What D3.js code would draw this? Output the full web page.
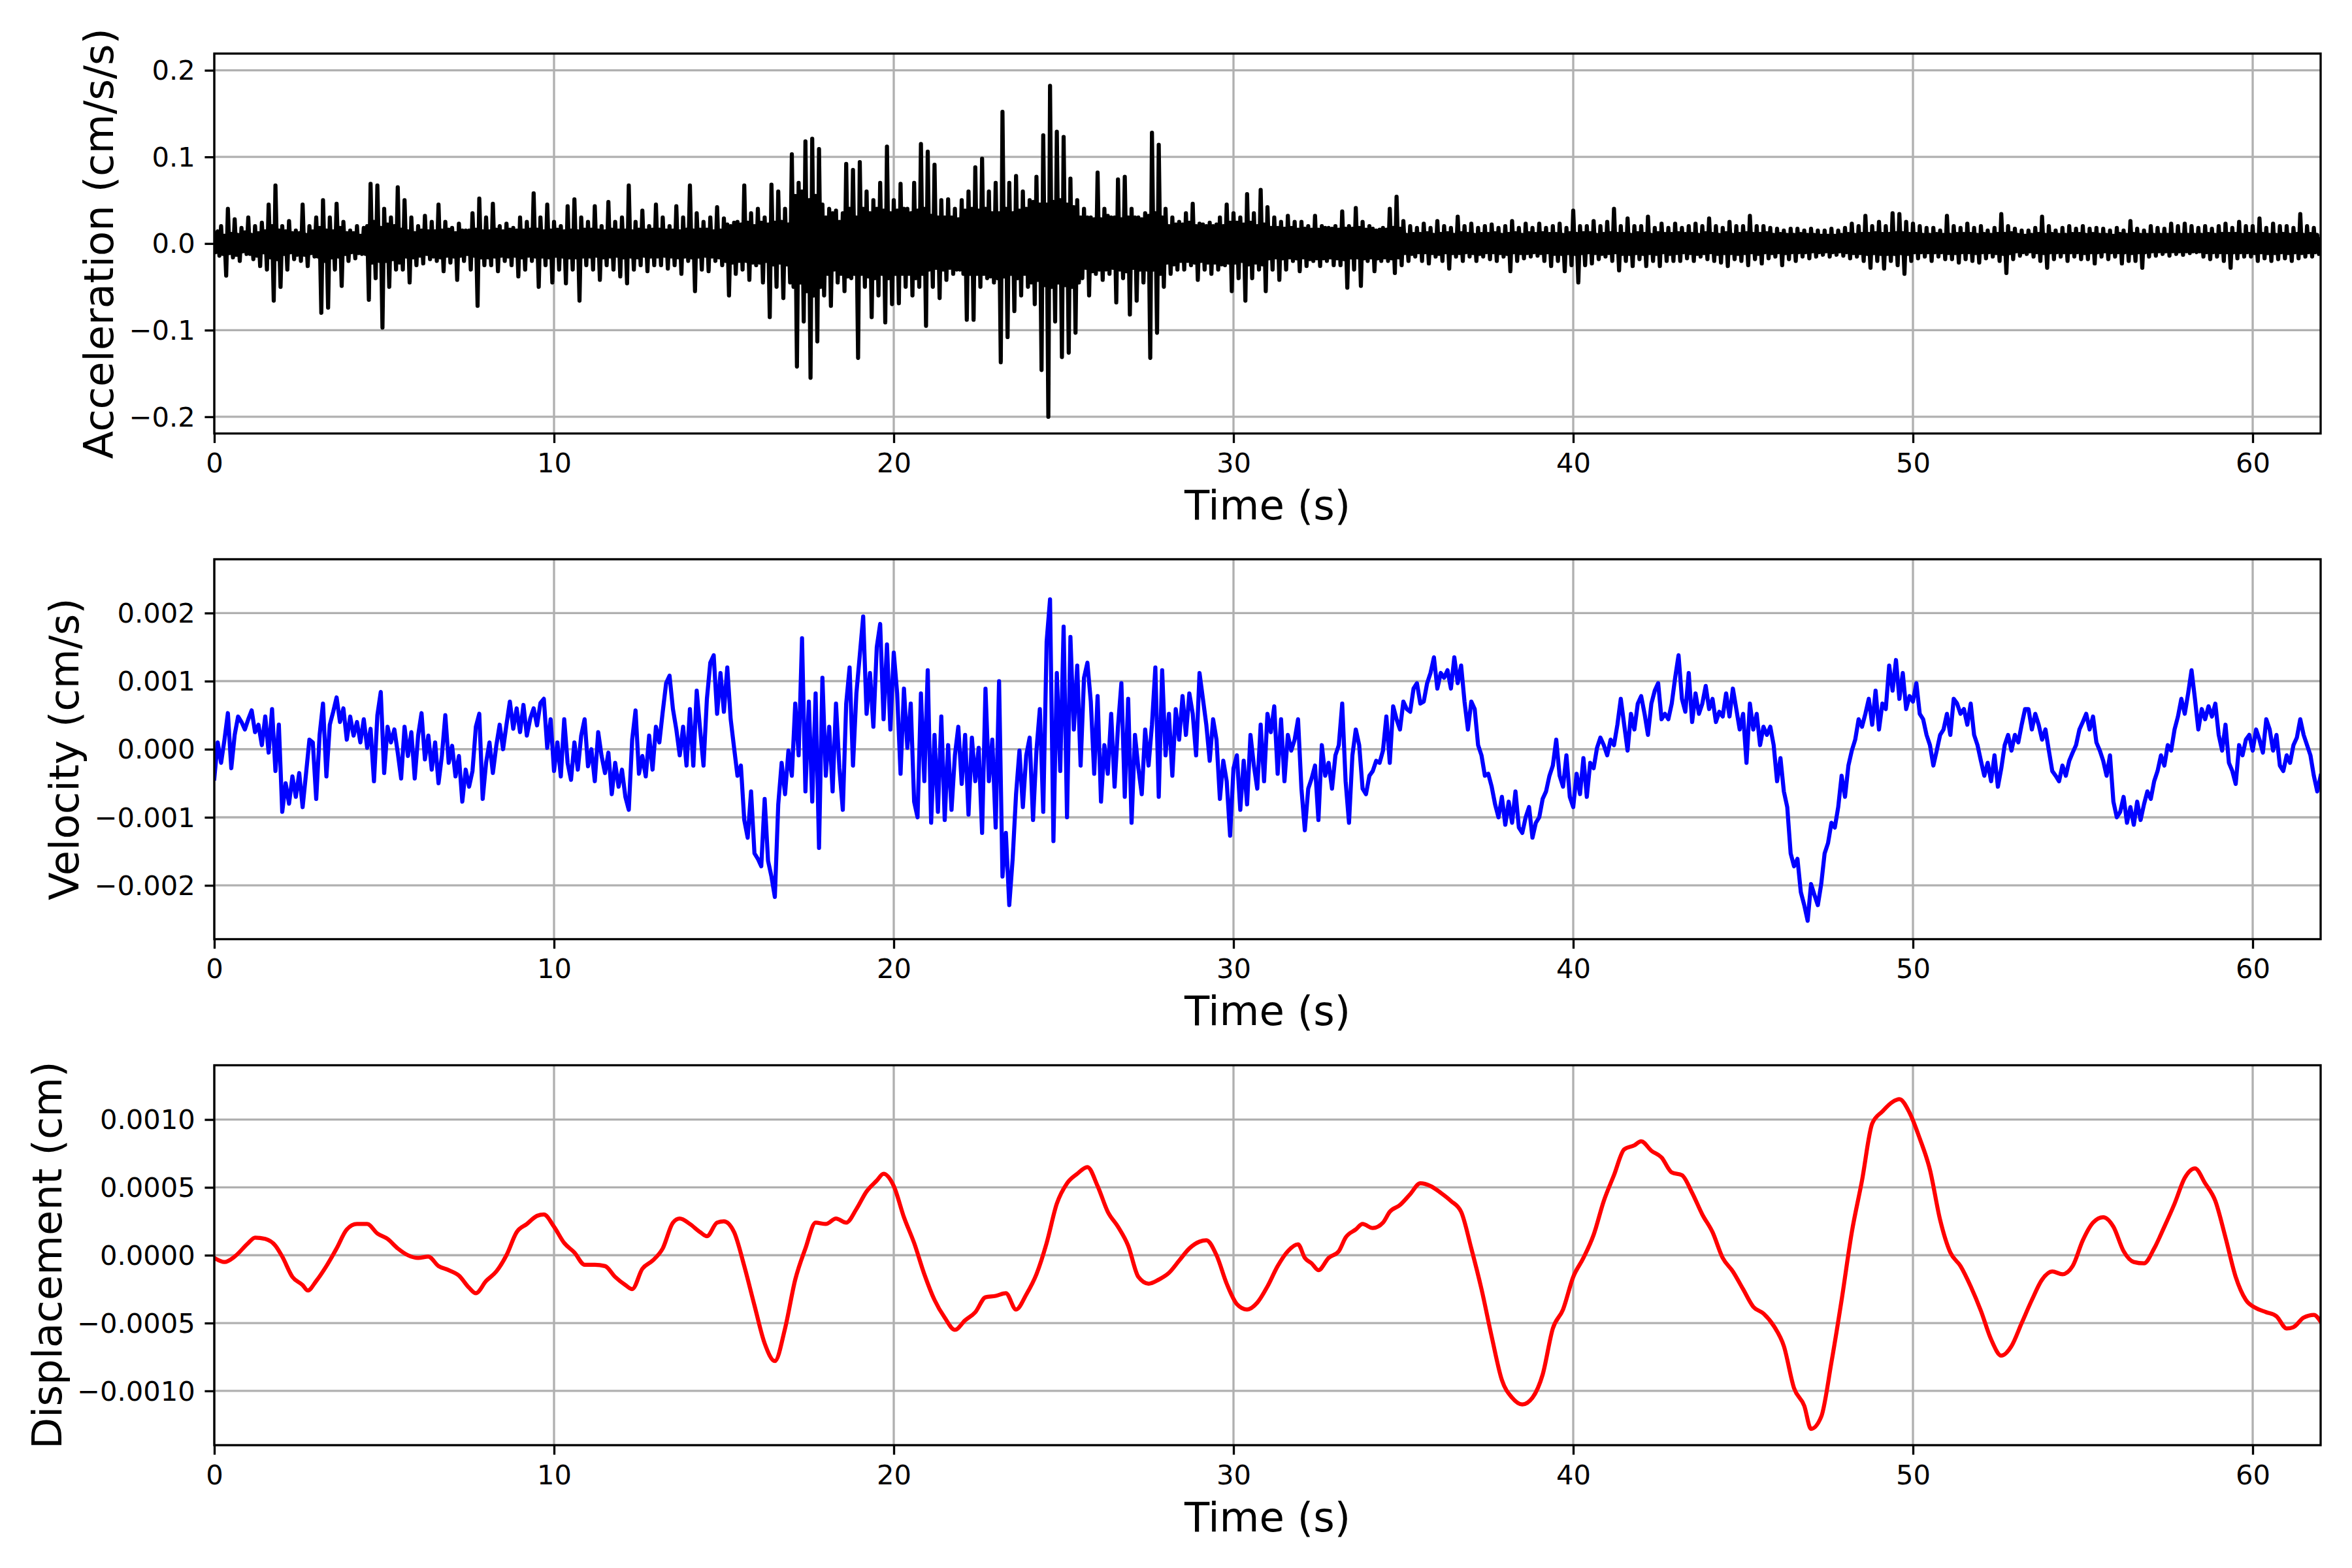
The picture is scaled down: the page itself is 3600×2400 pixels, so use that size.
<!DOCTYPE html>
<html><head><meta charset="utf-8">
<script src="https://cdn.jsdelivr.net/npm/d3@7"></script>
<style>html,body{margin:0;padding:0;background:#fff;} svg{display:block;}</style>
</head><body>
<svg id="chart" width="3600" height="2400"></svg>
<script>
// ---- data ----
const accelStep = 0.05; // seconds between acceleration samples
const velStep = 0.1;    // seconds between velocity samples
const timeTicks = [0, 10, 20, 30, 40, 50, 60];
const accelTicks = [-0.2, -0.1, 0, 0.1, 0.2];
const velTicks = [-0.002, -0.001, 0, 0.001, 0.002];
const dispTicks = [-0.001, -0.0005, 0, 0.0005, 0.001];

// one row = 0.5 s
const acceleration = [
.012,-.01,.014,-.014,.02,-.012,.009,-.037,.04,-.011,
.011,-.016,.028,-.013,.01,-.02,.018,-.009,.013,-.012,
.03,-.012,.01,-.018,.02,-.014,.012,-.026,.024,-.01,
.014,-.03,.045,-.016,.02,-.066,.067,-.018,.015,-.05,
.02,-.012,.014,-.03,.026,-.01,.012,-.018,.015,-.013,
.012,-.02,.045,-.013,.01,-.026,.02,-.011,.014,-.015,
.03,-.015,.018,-.08,.05,-.02,.015,-.074,.03,-.016,
.014,-.03,.046,-.015,.018,-.049,.025,-.012,.012,-.02,
.015,-.01,.012,-.017,.02,-.011,.009,-.012,.018,-.012,
.02,-.065,.069,-.022,.025,-.04,.067,-.02,.018,-.097,
.04,-.02,.022,-.05,.03,-.018,.02,-.03,.065,-.022,
.016,-.03,.05,-.015,.014,-.045,.03,-.016,.012,-.025,
.02,-.014,.015,-.023,.032,-.012,.014,-.018,.025,-.015,
.014,-.02,.045,-.016,.015,-.032,.025,-.014,.016,-.022,
.018,-.015,.012,-.042,.023,-.014,.015,-.02,.015,-.012,
.015,-.03,.035,-.014,.016,-.072,.052,-.016,.014,-.025,
.03,-.016,.014,-.025,.046,-.015,.016,-.032,.02,-.014,
.014,-.02,.023,-.015,.016,-.025,.018,-.014,.015,-.038,
.03,-.016,.015,-.03,.025,-.014,.016,-.02,.058,-.015,
.016,-.05,.03,-.015,.014,-.025,.045,-.016,.015,-.045,
.025,-.014,.016,-.03,.02,-.015,.014,-.046,.043,-.016,
.015,-.03,.051,-.016,.014,-.066,.03,-.015,.016,-.025,
.025,-.015,.016,-.03,.043,-.014,.015,-.042,.02,-.016,
.014,-.025,.048,-.015,.016,-.03,.025,-.014,.015,-.038,
.03,-.016,.015,-.046,.067,-.015,.014,-.03,.025,-.016,
.016,-.025,.038,-.014,.015,-.032,.02,-.015,.016,-.025,
.045,-.015,.016,-.025,.03,-.014,.015,-.029,.02,-.015,
.015,-.025,.043,-.016,.014,-.035,.03,-.015,.016,-.02,
.067,-.016,.015,-.055,.035,-.015,.016,-.03,.025,-.014,
.016,-.032,.03,-.015,.014,-.02,.042,-.016,.015,-.025,
.029,-.02,.022,-.06,.02,-.022,.024,-.035,.025,-.02,
.022,-.03,.067,-.02,.024,-.042,.035,-.022,.02,-.025,
.04,-.022,.024,-.045,.03,-.02,.022,-.085,.068,-.024,
.024,-.05,.06,-.022,.025,-.063,.04,-.024,.022,-.045,
.103,-.05,.055,-.142,.07,-.045,.06,-.09,.118,-.055,
.05,-.155,.121,-.06,.055,-.113,.109,-.05,.045,-.06,
.03,-.035,.04,-.072,.035,-.03,.038,-.045,.025,-.035,
.035,-.055,.092,-.038,.04,-.04,.085,-.035,.03,-.132,
.094,-.035,.04,-.05,.06,-.038,.035,-.085,.05,-.04,
.04,-.06,.07,-.035,.038,-.091,.112,-.04,.035,-.07,
.05,-.035,.038,-.069,.069,-.035,.04,-.05,.04,-.035,
.035,-.06,.07,-.04,.038,-.05,.115,-.035,.04,-.095,
.106,-.03,.032,-.05,.091,-.028,.03,-.063,.05,-.03,
.03,-.042,.051,-.028,.03,-.035,.04,-.03,.028,-.03,
.05,-.035,.038,-.088,.06,-.035,.04,-.088,.088,-.035,
.038,-.05,.098,-.035,.04,-.04,.06,-.038,.035,-.045,
.07,-.04,.035,-.137,.152,-.038,.04,-.108,.07,-.035,
.035,-.078,.078,-.04,.038,-.06,.06,-.035,.04,-.05,
.05,-.045,.048,-.07,.077,-.042,.045,-.146,.125,-.048,
.045,-.2,.182,-.05,.048,-.09,.129,-.045,.05,-.131,
.123,-.048,.045,-.126,.075,-.05,.042,-.103,.05,-.045,
.03,-.04,.04,-.028,.03,-.06,.03,-.032,.028,-.035,
.082,-.03,.028,-.042,.04,-.03,.032,-.035,.03,-.028,
.03,-.068,.074,-.03,.028,-.04,.077,-.032,.03,-.082,
.04,-.028,.03,-.066,.03,-.03,.028,-.045,.035,-.03,
.032,-.132,.128,-.03,.035,-.103,.114,-.035,.03,-.05,
.04,-.022,.02,-.035,.03,-.024,.022,-.03,.025,-.02,
.022,-.03,.035,-.02,.024,-.025,.046,-.022,.02,-.042,
.023,-.02,.022,-.03,.02,-.022,.024,-.035,.02,-.022,
.022,-.03,.03,-.024,.02,-.025,.045,-.022,.024,-.055,
.035,-.022,.024,-.04,.03,-.02,.022,-.066,.057,-.024,
.024,-.04,.035,-.022,.02,-.03,.062,-.024,.022,-.055,
.042,-.017,.018,-.03,.03,-.016,.018,-.042,.025,-.017,
.017,-.03,.032,-.016,.018,-.02,.025,-.017,.016,-.032,
.025,-.016,.017,-.026,.02,-.018,.016,-.02,.032,-.017,
.016,-.026,.02,-.017,.018,-.02,.018,-.016,.017,-.025,
.02,-.017,.016,-.025,.037,-.018,.017,-.051,.02,-.016,
.017,-.03,.041,-.016,.018,-.049,.025,-.017,.016,-.02,
.02,-.016,.017,-.032,.015,-.017,.016,-.02,.018,-.016,
.016,-.02,.04,-.017,.018,-.034,.054,-.016,.017,-.025,
.026,-.011,.01,-.02,.02,-.012,.011,-.015,.018,-.01,
.011,-.02,.023,-.01,.012,-.023,.018,-.011,.01,-.015,
.026,-.012,.011,-.02,.02,-.01,.012,-.029,.018,-.011,
.01,-.015,.031,-.011,.012,-.02,.02,-.01,.011,-.015,
.023,-.011,.01,-.02,.018,-.012,.011,-.015,.02,-.01,
.011,-.018,.022,-.01,.012,-.02,.018,-.011,.01,-.015,
.02,-.012,.011,-.032,.026,-.01,.012,-.02,.018,-.011,
.01,-.017,.023,-.011,.012,-.015,.018,-.01,.011,-.014,
.023,-.011,.012,-.02,.018,-.01,.011,-.026,.02,-.012,
.011,-.02,.023,-.012,.01,-.032,.018,-.011,.012,-.025,
.038,-.012,.011,-.045,.02,-.011,.012,-.025,.02,-.01,
.012,-.023,.026,-.011,.01,-.018,.02,-.012,.011,-.015,
.025,-.011,.012,-.02,.04,-.01,.011,-.031,.02,-.012,
.011,-.02,.029,-.012,.01,-.026,.02,-.011,.012,-.018,
.02,-.012,.011,-.026,.031,-.011,.01,-.02,.018,-.012,
.012,-.026,.023,-.01,.011,-.02,.018,-.012,.011,-.02,
.023,-.011,.012,-.02,.018,-.01,.011,-.017,.02,-.011,
.011,-.02,.023,-.012,.01,-.015,.02,-.011,.012,-.018,
.029,-.01,.011,-.02,.02,-.012,.01,-.022,.018,-.011,
.012,-.026,.025,-.011,.01,-.018,.02,-.012,.011,-.02,
.02,-.011,.012,-.025,.032,-.01,.011,-.018,.02,-.012,
.011,-.023,.02,-.01,.012,-.017,.018,-.011,.01,-.015,
.017,-.01,.011,-.025,.015,-.011,.01,-.018,.017,-.01,
.01,-.02,.017,-.01,.011,-.015,.015,-.01,.01,-.017,
.017,-.009,.01,-.015,.015,-.01,.009,-.013,.015,-.009,
.009,-.015,.017,-.01,.009,-.013,.015,-.009,.01,-.014,
.018,-.01,.011,-.017,.023,-.011,.01,-.015,.02,-.011,
.011,-.02,.032,-.012,.011,-.028,.02,-.011,.012,-.02,
.025,-.012,.011,-.029,.02,-.012,.011,-.02,.035,-.012,
.012,-.025,.034,-.011,.012,-.035,.025,-.012,.011,-.02,
.023,-.01,.011,-.017,.02,-.01,.01,-.015,.018,-.01,
.01,-.02,.018,-.01,.011,-.015,.015,-.01,.01,-.018,
.032,-.011,.01,-.018,.02,-.011,.011,-.022,.018,-.01,
.011,-.018,.023,-.01,.011,-.02,.018,-.011,.01,-.022,
.02,-.01,.011,-.017,.015,-.01,.01,-.015,.018,-.011,
.011,-.02,.034,-.012,.011,-.034,.02,-.011,.012,-.018,
.017,-.009,.01,-.014,.015,-.01,.009,-.012,.015,-.009,
.01,-.015,.018,-.01,.011,-.02,.031,-.011,.01,-.028,
.02,-.01,.011,-.018,.015,-.01,.01,-.015,.018,-.01,
.01,-.02,.02,-.01,.011,-.015,.017,-.01,.011,-.018,
.02,-.011,.01,-.018,.017,-.01,.011,-.023,.018,-.01,
.01,-.015,.017,-.009,.01,-.018,.015,-.01,.009,-.015,
.018,-.01,.011,-.023,.015,-.01,.01,-.02,.026,-.011,
.011,-.02,.017,-.01,.01,-.028,.015,-.01,.01,-.015,
.02,-.009,.01,-.014,.018,-.009,.01,-.012,.017,-.009,
.01,-.014,.023,-.009,.01,-.012,.02,-.009,.01,-.013,
.023,-.009,.01,-.011,.02,-.009,.01,-.01,.018,-.009,
.01,-.015,.02,-.01,.011,-.018,.017,-.01,.01,-.015,
.02,-.01,.011,-.02,.023,-.01,.011,-.028,.018,-.01,
.011,-.017,.025,-.01,.01,-.015,.02,-.01,.011,-.015,
.02,-.011,.01,-.02,.029,-.01,.011,-.017,.018,-.011,
.01,-.02,.023,-.011,.01,-.018,.02,-.01,.011,-.017,
.02,-.011,.01,-.02,.018,-.01,.011,-.017,.034,-.011,
.01,-.015,.02,-.01,.011,-.015,.018,-.01,.01,-.012,
.005
];

const velocity = [
-0.00043,0.0001,-0.0002,0.00014,0.00053,-0.00028,0.00021,0.00048,0.0004,0.00029,
0.00044,0.00057,0.00025,0.00036,0.00006,0.00048,-0.00005,0.00059,-0.00032,0.00036,
-0.00092,-0.0005,-0.0008,-0.0004,-0.0007,-0.00035,-0.00085,-0.00036,0.00014,0.0001,
-0.00073,0.00021,0.00067,-0.0004,0.00036,0.00055,0.00076,0.0004,0.0006,0.00014,
0.00048,0.0002,0.0004,0.0001,0.00044,0.00002,0.0003,-0.00047,0.0005,0.00084,
-0.00035,0.00033,0.0001,0.00029,-0.00005,-0.00043,0.00033,-0.0001,0.00025,-0.00043,
0.0002,0.00053,-0.00015,0.0002,-0.0003,0.0001,-0.0005,-0.00009,0.0005,-0.0002,
0.00005,-0.0004,-0.0001,-0.00077,-0.0003,-0.00055,-0.00032,0.00033,0.00052,-0.00073,
-0.0002,0.0001,-0.00035,0.00005,0.00036,0,0.00036,0.0007,0.0003,0.0006,
0.00025,0.00065,0.0002,0.00045,0.0006,0.00035,0.00068,0.00074,0.00002,0.00044,
-0.00032,0.0001,-0.0004,0.00044,-0.0002,-0.00045,0.0001,-0.0003,0.0002,0.00044,
-0.00025,0,-0.00047,0.00025,-0.0001,-0.00035,-0.00005,-0.00066,-0.0002,-0.00055,
-0.0003,-0.0007,-0.00089,0.00014,0.00057,-0.00036,-0.0001,-0.0004,0.0002,-0.0003,
0.00033,0.0001,0.00055,0.00097,0.00108,0.00059,0.00029,-0.00009,0.00033,-0.00024,
0.00059,-0.00024,0.00086,0.00029,-0.00024,0.00074,0.00127,0.00138,0.00052,0.00112,
0.00055,0.0012,0.00044,0.00002,-0.00039,-0.00024,-0.00104,-0.0013,-0.00062,-0.00153,
-0.00161,-0.00172,-0.00073,-0.00164,-0.00187,-0.00217,-0.00081,-0.0002,-0.00066,-0.00002,
-0.00039,0.00067,-0.00009,0.00163,-0.00062,0.0007,-0.00077,0.00082,-0.00145,0.00105,
-0.00039,0.00033,-0.00062,0.00067,-0.00028,-0.00089,0.00067,0.0012,-0.00024,0.00082,
0.00138,0.00195,0.00052,0.00112,0.00033,0.0015,0.00184,0.00044,0.00154,0.00029,
0.00142,0.00082,-0.00036,0.00089,0.00002,0.00067,-0.00077,-0.001,0.00082,-0.00047,
0.00116,-0.00108,0.00021,-0.00092,0.00048,-0.00104,0.00006,-0.00089,-0.00009,0.00033,
-0.00051,0.00021,-0.00096,0.00017,-0.00047,0.00002,-0.00123,0.00089,-0.00047,0.00014,
-0.00115,0.001,-0.00187,-0.00123,-0.00229,-0.00161,-0.00066,-0.00002,-0.00085,-0.00009,
0.00017,-0.00104,-0.00002,0.00059,-0.00092,0.00158,0.0022,-0.00135,0.00112,-0.00032,
0.0018,-0.001,0.00165,0.00029,0.00123,-0.00024,0.00105,0.00127,0.0007,-0.00036,
0.00078,-0.00077,0.00006,-0.00036,0.00052,-0.00055,0.00033,0.00097,-0.0007,0.00074,
-0.00108,0.00021,-0.00028,-0.00066,0.00029,-0.00024,0.00036,0.0012,-0.0007,0.00116,
-0.00009,0.00052,-0.00039,0.00059,0.00014,0.00078,0.00021,0.00082,0.00052,-0.00009,
0.00112,0.00074,0.00036,-0.00017,0.00044,0.00014,-0.00073,-0.00017,-0.00047,-0.00127,
-0.00028,-0.00009,-0.00089,-0.00017,-0.00081,0.00021,-0.00024,-0.00058,0.00036,-0.00047,
0.00052,0.00025,0.00063,-0.00036,0.00044,-0.00047,0.00021,-0.00002,0.00014,0.00044,
-0.00058,-0.00119,-0.00058,-0.00043,-0.00024,-0.00104,0.00006,-0.00039,-0.0002,-0.00058,
-0.00009,0.00006,0.00067,-0.00047,-0.00108,-0.00009,0.00029,0.00006,-0.00058,-0.00066,
-0.00039,-0.00032,-0.00017,-0.0002,-0.00002,0.00048,-0.0002,0.00063,0.00044,0.00029,
0.0007,0.00059,0.00055,0.00089,0.00097,0.00067,0.0007,0.00097,0.00112,0.00135,
0.00089,0.00112,0.00105,0.00116,0.00089,0.00135,0.00097,0.00123,0.0007,0.00029,
0.0007,0.00059,0.00006,-0.00009,-0.00039,-0.00036,-0.00055,-0.00081,-0.001,-0.0007,
-0.00111,-0.00077,-0.00108,-0.00062,-0.00115,-0.00123,-0.001,-0.00085,-0.0013,-0.00108,
-0.001,-0.00073,-0.00062,-0.00039,-0.00024,0.00014,-0.00039,-0.00055,-0.00009,-0.0007,
-0.00085,-0.00036,-0.00066,-0.00013,-0.0007,-0.0002,-0.00028,0.00002,0.00017,0.00006,
-0.00009,0.00014,0.00006,0.00036,0.00074,0.00036,-0.00002,0.00052,0.00029,0.00067,
0.00078,0.00052,0.00021,0.00067,0.00086,0.00097,0.00044,0.00052,0.00044,0.00067,
0.00105,0.00138,0.00074,0.00055,0.00112,0.0004,0.00082,0.00052,0.00067,0.00093,
0.00059,0.00074,0.0004,0.00055,0.00048,0.00082,0.00048,0.00089,0.00059,0.00029,
0.00052,-0.0002,0.00067,0.00029,0.00052,0.00006,0.00033,0.00021,0.00033,0.00006,
-0.00047,-0.00013,-0.00062,-0.00085,-0.00153,-0.00172,-0.00161,-0.0021,-0.00229,-0.00252,
-0.00198,-0.00214,-0.00229,-0.00198,-0.00153,-0.00138,-0.00108,-0.00115,-0.00085,-0.00039,
-0.0007,-0.00024,-0.00002,0.00014,0.00044,0.00033,0.00052,0.00074,0.00036,0.00086,
0.00029,0.00067,0.00059,0.00123,0.00086,0.00131,0.00074,0.00112,0.00059,0.00078,
0.0007,0.00097,0.00052,0.00044,0.00021,0.00006,-0.00024,-0.00002,0.00021,0.00029,
0.00052,0.00021,0.00074,0.00067,0.00052,0.00059,0.00036,0.00067,0.00021,0.00006,
-0.00017,-0.00039,-0.0002,-0.00047,-0.00009,-0.00055,-0.00028,0.00006,0.00021,-0.00002,
0.00021,0.0001,0.00036,0.00059,0.00059,0.00029,0.00052,0.00036,0.00014,0.00029,
-0.00002,-0.00032,-0.00039,-0.00047,-0.00024,-0.00039,-0.00017,-0.00005,0.00006,0.00029,
0.0004,0.00052,0.00029,0.00048,0.0001,-0.00002,-0.00017,-0.00039,-0.00009,-0.00077,
-0.001,-0.00092,-0.0007,-0.00108,-0.00085,-0.00111,-0.00077,-0.00104,-0.00081,-0.00062,
-0.00073,-0.00047,-0.00032,-0.00009,-0.00024,0.00006,-0.00002,0.00029,0.00048,0.00074,
0.00052,0.00082,0.00116,0.00074,0.00029,0.00059,0.00044,0.00063,0.00048,0.00067,
0.00021,-0.00002,0.00036,-0.0002,-0.00032,-0.00051,0.00006,-0.00009,0.00014,0.00021,
-0.00002,0.00029,0.00014,-0.00005,0.00044,0.00029,-0.00002,0.00021,-0.00024,-0.00032,
-0.00009,-0.0002,0.00006,0.00017,0.00044,0.00021,0.00006,-0.00009,-0.00039,-0.00062,
-0.00039
];

const dispTime = [
0,0.3,0.6,1.0,1.2,1.5,1.8,2.0,2.3,2.6,2.75,3.0,3.3,3.6,3.9,4.2,4.5,4.8,5.1,5.4,5.7,
6.0,6.3,6.6,6.9,7.2,7.5,7.7,8.0,8.3,8.6,8.9,9.2,9.5,9.7,10.0,10.3,10.6,10.9,11.2,11.5,
11.8,12.1,12.3,12.6,12.9,13.2,13.5,13.7,14.0,14.3,14.5,14.8,15.0,15.3,15.6,15.9,16.2,
16.5,16.8,17.1,17.4,17.7,18.0,18.3,18.6,18.9,19.2,19.5,19.7,20.0,20.3,20.6,20.9,21.2,
21.5,21.8,22.1,22.4,22.7,23.0,23.3,23.6,23.9,24.2,24.5,24.8,25.1,25.4,25.7,26.0,26.3,
26.6,26.9,27.2,27.5,27.8,28.1,28.4,28.7,29.0,29.2,29.5,29.8,30.1,30.4,30.7,31.0,31.3,
31.6,31.9,32.1,32.3,32.5,32.8,33.1,33.3,33.6,33.8,34.1,34.4,34.6,34.9,35.2,35.5,35.8,
36.1,36.4,36.7,37.0,37.3,37.6,37.9,38.2,38.5,38.8,39.1,39.4,39.7,40.0,40.3,40.6,40.9,
41.2,41.5,41.8,42.0,42.3,42.6,42.9,43.2,43.5,43.8,44.1,44.4,44.7,45.0,45.3,45.6,45.9,
46.2,46.5,46.8,47.0,47.3,47.6,47.9,48.2,48.5,48.8,49.1,49.4,49.6,49.9,50.2,50.5,50.8,
51.1,51.4,51.7,52.0,52.3,52.6,52.9,53.2,53.5,53.8,54.1,54.4,54.7,55.0,55.3,55.6,55.9,
56.2,56.5,56.8,57.1,57.4,57.7,58.0,58.3,58.6,58.9,59.2,59.5,59.8,60.1,60.4,60.7,61.0,
61.2,61.5,61.8,62.0
];
const displacement = [
-0.00002,-0.00005,-0.00001,0.00009,0.00013,0.00012,0.00007,-0.00001,-0.00016,-0.00022,-0.00026,-0.00019,-0.00008,0.00005,0.00019,0.00023,0.00023,0.00016,0.00012,0.00005,0,
-0.00002,-0.00001,-0.00008,-0.00011,-0.00015,-0.00024,-0.00028,-0.00019,-0.00012,0,0.00017,0.00023,0.00029,0.0003,0.00021,0.00009,0.00002,-0.00007,-0.00007,-0.00008,
-0.00016,-0.00022,-0.00025,-0.0001,-0.00004,0.00005,0.00024,0.00027,0.00023,0.00017,0.00014,0.00024,0.00025,0.00017,-0.00008,-0.00037,-0.00065,
-0.00078,-0.00054,-0.00018,0.00005,0.00024,0.00023,0.00027,0.00024,0.00034,0.00047,0.00055,0.0006,0.00051,0.00028,0.00009,-0.00014,-0.00033,
-0.00046,-0.00055,-0.00048,-0.00042,-0.00031,-0.0003,-0.00028,-0.0004,-0.00029,-0.00014,0.00009,0.00038,0.00053,0.0006,0.00065,0.00051,0.00032,
0.00021,0.00007,-0.00016,-0.00021,-0.00018,-0.00013,-0.00004,0.00005,0.0001,0.00011,0,-0.00021,-0.00036,-0.0004,-0.00035,-0.00023,-0.00008,
0.00003,0.00008,-0.00002,-0.00006,-0.00011,-0.00002,0.00003,0.00013,0.00019,0.00023,0.0002,0.00024,0.00032,0.00037,0.00045,0.00053,0.00051,
0.00046,0.0004,0.00032,0.00005,-0.00025,-0.0006,-0.00092,-0.00105,-0.0011,-0.00105,-0.00088,-0.00054,-0.0004,-0.00016,-0.00002,0.00015,0.0004,
0.00059,0.00078,0.00081,0.00084,0.00077,0.00072,0.00061,0.00059,0.00046,0.0003,0.00017,-0.00002,-0.00012,-0.00025,-0.00038,-0.00043,-0.00052,
-0.00067,-0.00098,-0.00111,-0.00128,-0.00119,-0.00079,-0.00033,0.00017,0.00055,0.00097,0.00106,0.00113,0.00115,0.00105,0.00086,0.00063,0.00026,
0.00002,-0.00008,-0.00023,-0.00041,-0.00062,-0.00074,-0.00067,-0.0005,-0.00033,-0.00018,-0.00012,-0.00014,-0.00008,0.00011,0.00024,0.00028,0.00021,
0.00003,-0.00005,-0.00006,0.00005,0.00021,0.00038,0.00057,0.00064,0.00053,0.0004,0.00013,-0.00016,-0.00033,-0.00039,-0.00042,-0.00045,-0.00054,
-0.00053,-0.00046,-0.00044,-0.00049
];

// ---- layout ----
const W = 3600, H = 2400;
const left = 328, right = 3552;
const panelTops = [82, 856, 1630.5];
const panelH = 581.5;
const tickFont = 41.67, labelFont = 62.5;
const lw = 0.8 * 300 / 72;      // spines, ticks, grid
const lineW = 1.5 * 300 / 72;   // data lines

const svg = d3.select("#chart");
svg.append("rect").attr("width", W).attr("height", H).attr("fill", "#fff");

const x = d3.scaleLinear().domain([0, 62]).range([left, right]);

const panels = [
  { label: "Acceleration (cm/s/s)", color: "#000000", ticks: accelTicks, fmt: d3.format(".1f"), lim: 0.2193,
    t: acceleration.map((_, i) => i * accelStep), v: acceleration, curve: d3.curveLinear },
  { label: "Velocity (cm/s)", color: "#0000ff", ticks: velTicks, fmt: d3.format(".3f"), lim: 0.00279,
    t: velocity.map((_, i) => i * velStep), v: velocity, curve: d3.curveLinear },
  { label: "Displacement (cm)", color: "#ff0000", ticks: dispTicks, fmt: d3.format(".4f"), lim: 0.0014,
    t: dispTime, v: displacement, curve: d3.curveMonotoneX }
];

panels.forEach((p, k) => {
  const top = panelTops[k], bottom = top + panelH;
  const y = d3.scaleLinear().domain([-p.lim, p.lim]).range([bottom, top]);
  const g = svg.append("g");

  // grid
  const grid = g.append("g").attr("stroke", "#b0b0b0").attr("stroke-width", lw);
  grid.selectAll("line.gx").data(timeTicks).join("line")
    .attr("x1", d => x(d)).attr("x2", d => x(d)).attr("y1", top).attr("y2", bottom);
  grid.selectAll("line.gy").data(p.ticks).join("line")
    .attr("x1", left).attr("x2", right).attr("y1", d => y(d)).attr("y2", d => y(d));

  // clip
  const cid = "clip" + k;
  svg.append("clipPath").attr("id", cid).append("rect")
    .attr("x", left).attr("y", top).attr("width", right - left).attr("height", panelH);

  const pts = p.v.map((v, i) => [p.t[i], v]);
  g.append("path").datum(pts)
    .attr("clip-path", `url(#${cid})`)
    .attr("fill", "none").attr("stroke", p.color).attr("stroke-width", lineW)
    .attr("stroke-linejoin", "round").attr("stroke-linecap", "square")
    .attr("d", d3.line().x(d => x(d[0])).y(d => y(d[1])).curve(p.curve));

  // spines
  g.append("rect").attr("x", left).attr("y", top).attr("width", right - left).attr("height", panelH)
    .attr("fill", "none").attr("stroke", "#000").attr("stroke-width", lw);

  // x axis
  const xa = g.append("g").attr("transform", `translate(0,${bottom})`)
    .call(d3.axisBottom(x).tickValues(timeTicks).tickFormat(d3.format("d")).tickSize(14.6).tickPadding(15.6));
  // y axis
  const ya = g.append("g").attr("transform", `translate(${left},0)`)
    .call(d3.axisLeft(y).tickValues(p.ticks).tickFormat(p.fmt).tickSize(14.6).tickPadding(14.6));
  [xa, ya].forEach(a => {
    a.select(".domain").remove();
    a.selectAll(".tick line").attr("stroke", "#000").attr("stroke-width", lw);
    a.selectAll(".tick text").attr("fill", "#000")
      .attr("font-family", "'DejaVu Sans', sans-serif").attr("font-size", tickFont);
  });
  ya.selectAll(".tick text").attr("dy", "0.34em");

  // x label
  g.append("text").attr("x", (left + right) / 2).attr("y", bottom + 131.7)
    .attr("text-anchor", "middle").attr("font-family", "'DejaVu Sans', sans-serif")
    .attr("font-size", labelFont).attr("fill", "#000").text("Time (s)");

  // y label
  const bb = ya.node().getBBox();
  const lx = left + bb.x - 24.6;
  const cy = (top + bottom) / 2;
  g.append("text").attr("transform", `translate(${lx},${cy}) rotate(-90)`)
    .attr("text-anchor", "middle").attr("font-family", "'DejaVu Sans', sans-serif")
    .attr("font-size", labelFont).attr("fill", "#000").text(p.label);
});
</script>
</body></html>
